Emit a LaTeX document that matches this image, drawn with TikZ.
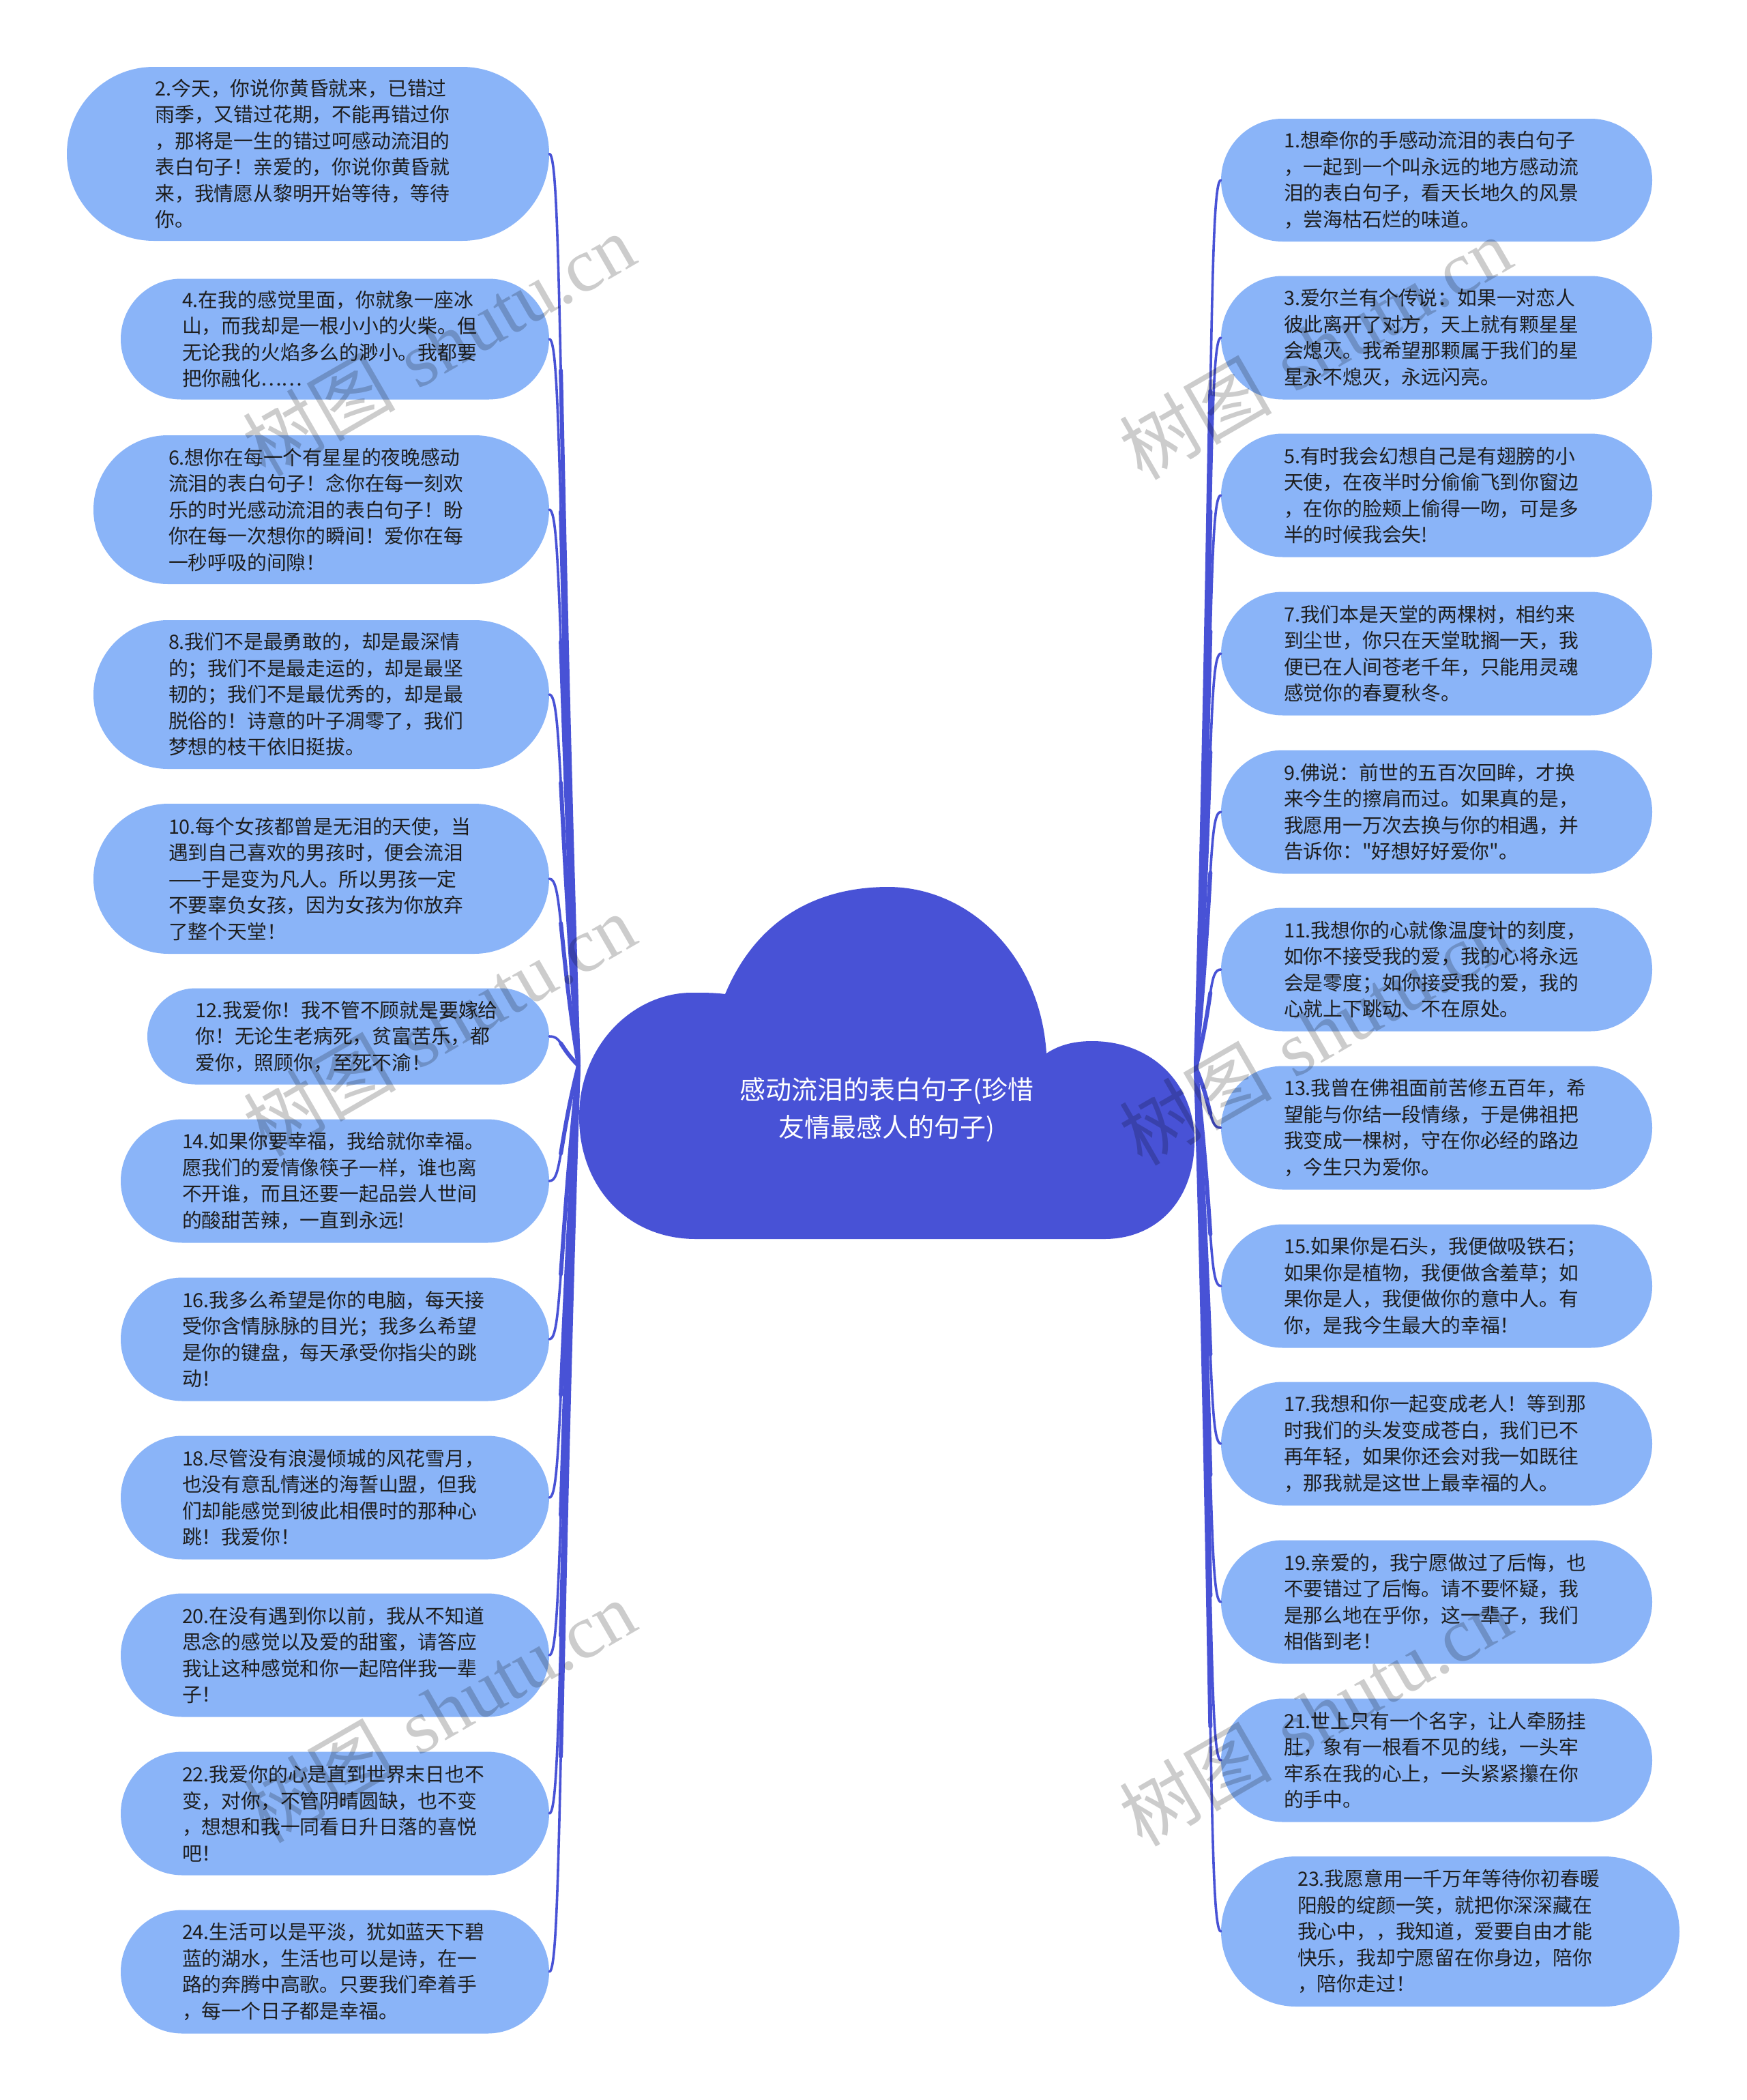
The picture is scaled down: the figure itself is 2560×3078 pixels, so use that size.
\documentclass[tikz,border=0pt]{standalone}
\usepackage{fontspec}
\newfontfamily\cjk{Noto Sans CJK SC}
\newfontfamily\wmlatin{Liberation Serif}
\usetikzlibrary{calc}
\definecolor{boxblue}{RGB}{138,180,248}
\definecolor{cloudblue}{RGB}{72,82,214}
\definecolor{txt}{RGB}{30,30,30}
\begin{document}
\begin{tikzpicture}[x=1pt,y=-1pt,
  pill/.style 2 args={draw=none, fill=boxblue, rectangle, minimum width=#1, minimum height=#2,
    rounded corners=#2/2, text width=448pt, align=left, inner sep=4pt, text=txt,
    font=\cjk\fontsize{28.8}{38.5}\selectfont},
  link/.style={draw=cloudblue, line width=3.6pt, line cap=round},
  linkthick/.style={draw=cloudblue, line width=6pt, line cap=round},
  cloudtext/.style={text=white, align=center, font=\cjk\fontsize{38}{55}\selectfont},
  wm/.style={text=black, opacity=0.2, rotate=30, inner sep=0pt, font=\fontsize{112}{112}\selectfont}
]
\useasboundingbox[fill=white] (0,0) rectangle (2560,3078);

% central cloud
\fill[cloudblue] (1063,1457) .. controls (1110,1345) and (1200,1300) .. (1302,1300)
  .. controls (1420,1300) and (1525,1400) .. (1534,1544)
  .. controls (1555,1530) and (1578,1526) .. (1601,1526)
  .. controls (1690,1526) and (1751,1590) .. (1751,1672)
  .. controls (1751,1760) and (1695,1816) .. (1619,1816)
  -- (1020,1816)
  .. controls (920,1816) and (849,1740) .. (849,1637)
  .. controls (849,1530) and (930,1455) .. (1014,1455)
  .. controls (1032,1455) and (1048,1455) .. (1063,1457) -- cycle;
\node[cloudtext] (root) at (1300,1627) {感动流泪的表白句子(珍惜\\友情最感人的句子)};
\coordinate (cl) at (848,1562);
\coordinate (cr) at (1753,1565);

% left column
\node[pill={707pt}{255pt}] (n2) at (451.5,225.5) {2.今天，你说你黄昏就来，已错过\\雨季，又错过花期，不能再错过你\\，那将是一生的错过呵感动流泪的\\表白句子！亲爱的，你说你黄昏就\\来，我情愿从黎明开始等待，等待\\你。};
\node[pill={628pt}{177pt}] (n4) at (491,497) {4.在我的感觉里面，你就象一座冰\\山，而我却是一根小小的火柴。但\\无论我的火焰多么的渺小。我都要\\把你融化……};
\node[pill={668pt}{218pt}] (n6) at (471,747) {6.想你在每一个有星星的夜晚感动\\流泪的表白句子！念你在每一刻欢\\乐的时光感动流泪的表白句子！盼\\你在每一次想你的瞬间！爱你在每\\一秒呼吸的间隙！};
\node[pill={668pt}{218pt}] (n8) at (471,1018) {8.我们不是最勇敢的，却是最深情\\的；我们不是最走运的，却是最坚\\韧的；我们不是最优秀的，却是最\\脱俗的！诗意的叶子凋零了，我们\\梦想的枝干依旧挺拔。};
\node[pill={668pt}{220pt}] (n10) at (471,1288) {10.每个女孩都曾是无泪的天使，当\\遇到自己喜欢的男孩时，便会流泪\\——于是变为凡人。所以男孩一定\\不要辜负女孩，因为女孩为你放弃\\了整个天堂！};
\node[pill={589pt}{141pt}] (n12) at (510.5,1519) {12.我爱你！我不管不顾就是要嫁给\\你！无论生老病死，贫富苦乐，都\\爱你，照顾你，至死不渝！};
\node[pill={628pt}{181pt}] (n14) at (491,1731) {14.如果你要幸福，我给就你幸福。\\愿我们的爱情像筷子一样，谁也离\\不开谁，而且还要一起品尝人世间\\的酸甜苦辣，一直到永远!};
\node[pill={628pt}{181pt}] (n16) at (491,1963) {16.我多么希望是你的电脑，每天接\\受你含情脉脉的目光；我多么希望\\是你的键盘，每天承受你指尖的跳\\动！};
\node[pill={628pt}{181pt}] (n18) at (491,2195) {18.尽管没有浪漫倾城的风花雪月，\\也没有意乱情迷的海誓山盟，但我\\们却能感觉到彼此相偎时的那种心\\跳！我爱你！};
\node[pill={628pt}{181pt}] (n20) at (491,2426) {20.在没有遇到你以前，我从不知道\\思念的感觉以及爱的甜蜜，请答应\\我让这种感觉和你一起陪伴我一辈\\子！};
\node[pill={628pt}{181pt}] (n22) at (491,2658) {22.我爱你的心是直到世界末日也不\\变，对你，不管阴晴圆缺，也不变\\，想想和我一同看日升日落的喜悦\\吧！};
\node[pill={628pt}{181pt}] (n24) at (491,2890) {24.生活可以是平淡，犹如蓝天下碧\\蓝的湖水，生活也可以是诗，在一\\路的奔腾中高歌。只要我们牵着手\\，每一个日子都是幸福。};

% right column
\node[pill={632pt}{180pt}] (n1) at (2106,264) {1.想牵你的手感动流泪的表白句子\\，一起到一个叫永远的地方感动流\\泪的表白句子，看天长地久的风景\\，尝海枯石烂的味道。};
\node[pill={632pt}{181pt}] (n3) at (2106,495) {3.爱尔兰有个传说：如果一对恋人\\彼此离开了对方，天上就有颗星星\\会熄灭。我希望那颗属于我们的星\\星永不熄灭，永远闪亮。};
\node[pill={632pt}{181pt}] (n5) at (2106,726) {5.有时我会幻想自己是有翅膀的小\\天使，在夜半时分偷偷飞到你窗边\\，在你的脸颊上偷得一吻，可是多\\半的时候我会失!};
\node[pill={632pt}{181pt}] (n7) at (2106,958) {7.我们本是天堂的两棵树，相约来\\到尘世，你只在天堂耽搁一天，我\\便已在人间苍老千年，只能用灵魂\\感觉你的春夏秋冬。};
\node[pill={632pt}{181pt}] (n9) at (2106,1190) {9.佛说：前世的五百次回眸，才换\\来今生的擦肩而过。如果真的是，\\我愿用一万次去换与你的相遇，并\\告诉你："好想好好爱你"。};
\node[pill={632pt}{181pt}] (n11) at (2106,1421) {11.我想你的心就像温度计的刻度，\\如你不接受我的爱，我的心将永远\\会是零度；如你接受我的爱，我的\\心就上下跳动、不在原处。};
\node[pill={632pt}{181pt}] (n13) at (2106,1653) {13.我曾在佛祖面前苦修五百年，希\\望能与你结一段情缘，于是佛祖把\\我变成一棵树，守在你必经的路边\\，今生只为爱你。};
\node[pill={632pt}{181pt}] (n15) at (2106,1885) {15.如果你是石头，我便做吸铁石；\\如果你是植物，我便做含羞草；如\\果你是人，我便做你的意中人。有\\你，是我今生最大的幸福！};
\node[pill={632pt}{181pt}] (n17) at (2106,2116) {17.我想和你一起变成老人！等到那\\时我们的头发变成苍白，我们已不\\再年轻，如果你还会对我一如既往\\，那我就是这世上最幸福的人。};
\node[pill={632pt}{181pt}] (n19) at (2106,2348) {19.亲爱的，我宁愿做过了后悔，也\\不要错过了后悔。请不要怀疑，我\\是那么地在乎你，这一辈子，我们\\相偕到老！};
\node[pill={632pt}{181pt}] (n21) at (2106,2580) {21.世上只有一个名字，让人牵肠挂\\肚，象有一根看不见的线，一头牢\\牢系在我的心上，一头紧紧攥在你\\的手中。};
\node[pill={672pt}{220pt}] (n23) at (2126,2831) {23.我愿意用一千万年等待你初春暖\\阳般的绽颜一笑，就把你深深藏在\\我心中，，我知道，爱要自由才能\\快乐，我却宁愿留在你身边，陪你\\，陪你走过！};

% connectors (thin full curve plus a thicker inner half for a tapered look)
\foreach \n/\s/\e/\d in {n2/east/cl/18,n4/east/cl/18,n6/east/cl/18,n8/east/cl/18,n10/east/cl/18,n12/east/cl/18,
    n14/east/cl/18,n16/east/cl/18,n18/east/cl/18,n20/east/cl/18,n22/east/cl/18,n24/east/cl/18,
    n1/west/cr/-18,n3/west/cr/-18,n5/west/cr/-18,n7/west/cr/-18,n9/west/cr/-18,n11/west/cr/-18,
    n13/west/cr/-18,n15/west/cr/-18,n17/west/cr/-18,n19/west/cr/-18,n21/west/cr/-18,n23/west/cr/-18}{
  \coordinate (p0) at (\n.\s);
  \coordinate (p3) at (\e);
  \coordinate (p1) at ($(p0)+(\d,0)$);
  \coordinate (p2) at ($(p0)!0.3!(p3)$);
  \coordinate (pm) at ($0.125*(p0)+0.375*(p1)+0.375*(p2)+0.125*(p3)$);
  \coordinate (q1) at ($0.25*(p1)+0.5*(p2)+0.25*(p3)$);
  \coordinate (q2) at ($(p2)!0.5!(p3)$);
  \draw[link] (p0) .. controls (p1) and (p2) .. (p3);
  \draw[linkthick] (pm) .. controls (q1) and (q2) .. (p3);
}

% watermarks
\foreach \i/\x/\y in {1/643/505, 2/644/1502, 3/644/2508, 4/1928/510, 5/1928/1515, 6/1928/2513}
  \node[wm] (wm\i) at (\x,\y) {{\cjk 树图} {\wmlatin shutu.cn}};
\end{tikzpicture}
\end{document}
